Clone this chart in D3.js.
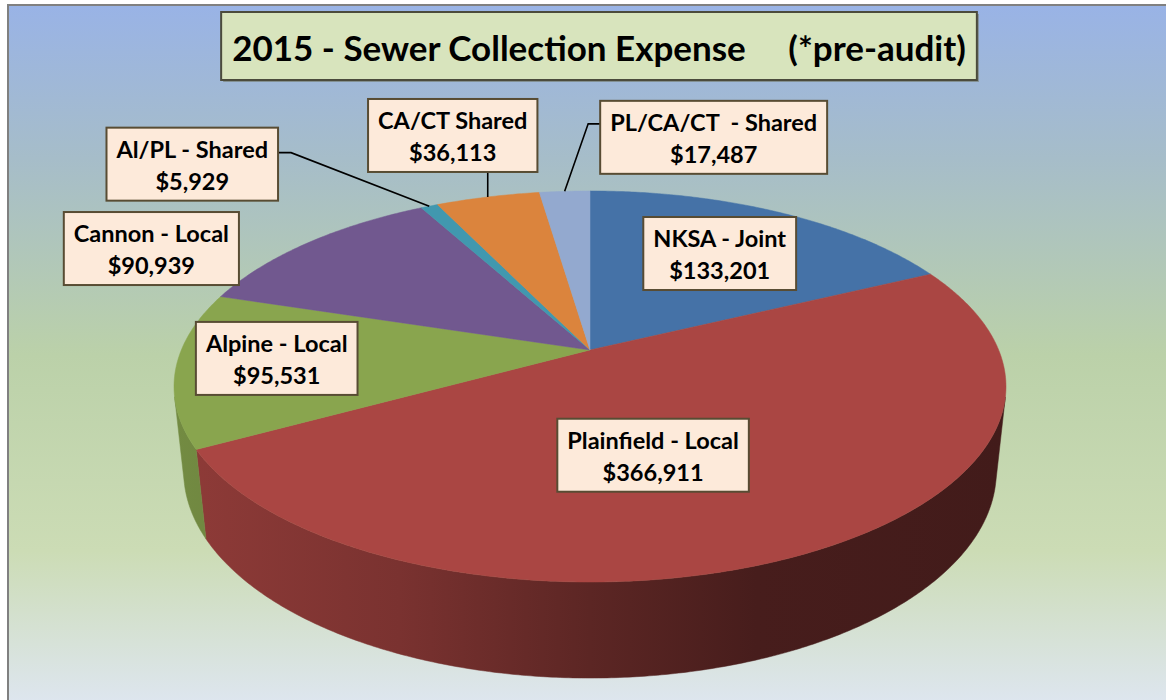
<!DOCTYPE html>
<html><head><meta charset="utf-8">
<script src="https://cdn.jsdelivr.net/npm/d3@7"></script>
<style>html,body{margin:0;padding:0;background:#fff;overflow:hidden}</style>
</head><body><svg id="chart" width="1166" height="700"></svg>
<script>
// ---- data ----
const titleText = "2015 - Sewer Collection Expense     (*pre-audit)";
const categories = ["NKSA - Joint", "Plainfield - Local", "Alpine - Local", "Cannon - Local", "Al/PL - Shared", "CA/CT Shared", "PL/CA/CT  - Shared"];
const values = [133201, 366911, 95531, 90939, 5929, 36113, 17487];
const colors = ["#4572A7", "#AA4643", "#89A54E", "#71588F", "#4198AF", "#DB843D", "#93A9CF"];

// ---- layout (label box offsets from the slice's rim midpoint) ----
const labelDx = [-58, -161, 101, -156, -237, -35, 149];
const labelDy = [41.5, -96, -10.5, 5.5, -42, -61.5, -54];
const leaderType = [null, null, null, null, "right", "bottom", "left"];

const W = 1166, H = 700;
const svg = d3.select("#chart");
const defs = svg.append("defs");

// background
const bg = defs.append("linearGradient").attr("id", "bg").attr("x1", 0).attr("y1", 0).attr("x2", 0).attr("y2", 1);
[["0", "#99B3E6"], ["0.22", "#A6BDC9"], ["0.5", "#BBD1A9"], ["0.78", "#CCDCB5"], ["1", "#DEE6F0"]]
  .forEach(([o, c]) => bg.append("stop").attr("offset", o).attr("stop-color", c));
svg.append("rect").attr("x", 8).attr("y", 5).attr("width", W).attr("height", H)
  .attr("fill", "url(#bg)").attr("stroke", "#808080").attr("stroke-width", 2);

// ---- 3D pie: perspective camera ----
const cx = 590, cy = 350;
const sA = 0.887, cA = Math.sqrt(1 - sA * sA), D = 4.752, f = 1942, h = 0.2363;
function proj(theta, down) {
  const X = Math.sin(theta), Z = -Math.cos(theta), Yw = down ? -h : 0;
  const zc = D - Z * sA - Yw * cA;
  return [cx + f * X / zc, cy + f * (Z * cA - Yw * sA) / zc];
}
function arcPts(a0, a1, down) {
  const n = Math.max(2, Math.ceil(Math.abs(a1 - a0) / (Math.PI / 360)));
  return d3.range(n + 1).map(i => proj(a0 + (a1 - a0) * i / n, down));
}
const arcs = d3.pie().sort(null).value(d => d).startAngle(0).endAngle(2 * Math.PI)(values);

// visible part of the cylinder wall
const thR = Math.acos(-1 / (D * sA)), thL = 2 * Math.PI - thR;
const line = d3.line();
const xL = proj(thL, false)[0], xR = proj(thR, false)[0];

const sides = svg.append("g");
arcs.forEach((a, i) => {
  const s = Math.max(a.startAngle, thR), e = Math.min(a.endAngle, thL);
  if (s >= e) return;
  const base = d3.rgb(colors[i]);
  const g = defs.append("linearGradient").attr("id", "side" + i).attr("gradientUnits", "userSpaceOnUse")
    .attr("x1", xL).attr("x2", xR).attr("y1", 0).attr("y2", 0);
  [[0, 0.84], [0.27, 0.72], [0.5, 0.54], [0.7, 0.42], [1, 0.39]].forEach(([o, m]) =>
    g.append("stop").attr("offset", o).attr("stop-color", d3.rgb(base.r * m, base.g * m, base.b * m).formatHex()));
  const pts = arcPts(s, e, false).concat(arcPts(e, s, true));
  sides.append("path").attr("d", line(pts) + "Z").attr("fill", "url(#side" + i + ")")
    .attr("stroke", "url(#side" + i + ")").attr("stroke-width", 0.5);
});

// top faces
const tops = svg.append("g");
arcs.forEach((a, i) => {
  const pts = [[cx, cy]].concat(arcPts(a.startAngle, a.endAngle, false));
  tops.append("path").attr("d", line(pts) + "Z").attr("fill", colors[i])
    .attr("stroke", colors[i]).attr("stroke-width", 0.5);
});

// ---- title ----
const FONT = "Lato, 'Open Sans', sans-serif";
const tg = svg.append("g");
const tShadow = tg.append("rect"), tBox = tg.append("rect");
const tText = tg.append("text").attr("x", 599).attr("y", 61).attr("text-anchor", "middle")
  .style("white-space", "pre").attr("font-family", FONT).attr("font-weight", 700)
  .attr("font-size", 33).attr("fill", "#000").text(titleText);
let tw = tText.node().getComputedTextLength();
tText.attr("font-size", 33 * 734 / tw);
tw = tText.node().getComputedTextLength();
const tbx = 599 - tw / 2 - 11, tbw = tw + 22;
tShadow.attr("x", tbx + 2).attr("y", 14).attr("width", tbw).attr("height", 68).attr("fill", "#6f7566").attr("opacity", 0.6);
tBox.attr("x", tbx).attr("y", 12).attr("width", tbw).attr("height", 68)
  .attr("fill", "#D8E4BD").attr("stroke", "#4B4B3C").attr("stroke-width", 2);

// ---- labels ----
const fmt = d3.format("$,");
const lg = svg.append("g");
arcs.forEach((a, i) => {
  const mid = (a.startAngle + a.endAngle) / 2;
  const [ax, ay] = proj(mid, false);
  const bcx = ax + labelDx[i], bcy = ay + labelDy[i];
  const bh = 73;
  const g = lg.append("g");
  const leader = g.append("path").attr("fill", "none").attr("stroke", "#000").attr("stroke-width", 1.6);
  const box = g.append("rect");
  const top = bcy - bh / 2;
  const t1 = g.append("text").attr("x", bcx).attr("y", top + 30).attr("text-anchor", "middle")
    .style("white-space", "pre").attr("font-family", FONT).attr("font-weight", 700).attr("font-size", 23.5)
    .attr("fill", "#000").text(categories[i]);
  const t2 = g.append("text").attr("x", bcx).attr("y", top + 62).attr("text-anchor", "middle")
    .attr("font-family", FONT).attr("font-weight", 700).attr("font-size", 23.5)
    .attr("fill", "#000").text(fmt(values[i]));
  const w = Math.max(t1.node().getComputedTextLength(), t2.node().getComputedTextLength()) + 20;
  const left = bcx - w / 2, right = bcx + w / 2, bottom = top + bh;
  box.attr("x", left).attr("y", top).attr("width", w).attr("height", bh)
    .attr("fill", "#FDEADA").attr("stroke", "#584C33").attr("stroke-width", 2);
  let pts = null;
  if (leaderType[i] === "right") pts = [[ax, ay], [right + 13, top + 25], [right, top + 25]];
  else if (leaderType[i] === "left") pts = [[ax, ay], [left - 12, top + 23], [left, top + 23]];
  else if (leaderType[i] === "bottom") pts = [[ax, ay], [ax, bottom]];
  if (pts) leader.attr("d", line(pts));
  else leader.remove();
});
</script></body></html>
